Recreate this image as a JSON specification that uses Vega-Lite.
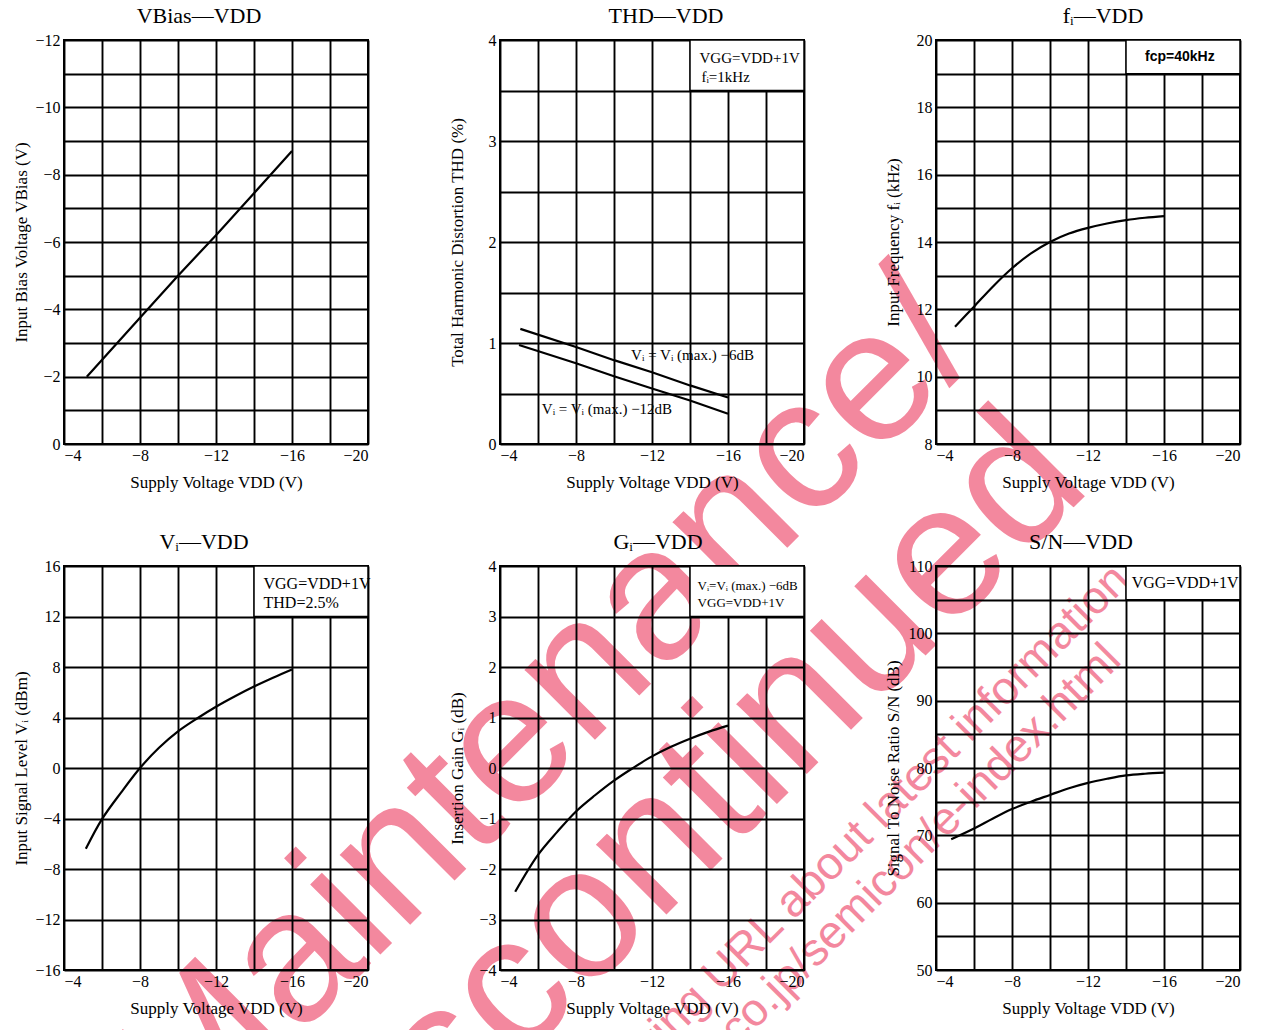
{
  "$schema": "https://vega.github.io/schema/vega-lite/v6.json",
  "background": "white",
  "padding": {"left": 11, "top": 4, "right": 10, "bottom": 10},
  "columns": 3,
  "spacing": {"row": 122, "column": 132},
  "bounds": "flush",
  "datasets": {
    "wmbig": [
      {"x": -31.47, "y": 9.06, "t": "Maintenance/"},
      {"x": -37.95, "y": 12.71, "t": "Discontinued"}
    ],
    "wmsmall": [
      {"x": -41.47, "y": 14.67, "t": "Please visit following URL about latest information."},
      {"x": -43.32, "y": 15.74, "t": "http://panasonic.co.jp/semicon/e-index.html"}
    ],
    "bias": [{"x": -5.2, "y": -2.0}, {"x": -8, "y": -3.75}, {"x": -10, "y": -5.0}, {"x": -12, "y": -6.2}, {"x": -14, "y": -7.45}, {"x": -16, "y": -8.7}],
    "thd": [
      {"s": "6dB", "x": -5.07, "y": 1.14}, {"s": "6dB", "x": -8, "y": 0.96}, {"s": "6dB", "x": -10, "y": 0.83}, {"s": "6dB", "x": -12, "y": 0.71}, {"s": "6dB", "x": -14, "y": 0.58}, {"s": "6dB", "x": -16, "y": 0.46},
      {"s": "12dB", "x": -5.0, "y": 0.98}, {"s": "12dB", "x": -8, "y": 0.8}, {"s": "12dB", "x": -10, "y": 0.67}, {"s": "12dB", "x": -12, "y": 0.55}, {"s": "12dB", "x": -14, "y": 0.43}, {"s": "12dB", "x": -16, "y": 0.3}
    ],
    "thdbox": [{"x": -14, "x2": -20, "y": 3.5, "y2": 4}],
    "thdtxt": [
      {"x": -14.5, "y": 3.82, "t": "VGG=VDD+1V"},
      {"x": -14.6, "y": 3.63, "t": "fᵢ=1kHz"},
      {"x": -10.9, "y": 0.88, "t": "Vᵢ = Vᵢ (max.) −6dB"},
      {"x": -6.2, "y": 0.35, "t": "Vᵢ = Vᵢ (max.) −12dB"}
    ],
    "fi": [{"x": -5, "y": 11.48}, {"x": -6, "y": 12.08}, {"x": -7, "y": 12.68}, {"x": -8, "y": 13.22}, {"x": -9, "y": 13.66}, {"x": -10, "y": 14.0}, {"x": -11, "y": 14.25}, {"x": -12, "y": 14.42}, {"x": -13, "y": 14.55}, {"x": -14, "y": 14.65}, {"x": -15, "y": 14.72}, {"x": -16, "y": 14.77}],
    "fibox": [{"x": -14, "x2": -20, "y": 19, "y2": 20}],
    "fitxt": [{"x": -15.0, "y": 19.5, "t": "fcp=40kHz"}],
    "vi": [{"x": -5.15, "y": -6.4}, {"x": -6, "y": -4.05}, {"x": -7, "y": -1.95}, {"x": -8, "y": 0}, {"x": -9, "y": 1.6}, {"x": -10, "y": 2.9}, {"x": -11, "y": 3.92}, {"x": -12, "y": 4.85}, {"x": -13, "y": 5.68}, {"x": -14, "y": 6.45}, {"x": -15, "y": 7.15}, {"x": -16, "y": 7.8}],
    "vibox": [{"x": -14, "x2": -20, "y": 12, "y2": 16}],
    "vitxt": [{"x": -14.5, "y": 14.6, "t": "VGG=VDD+1V"}, {"x": -14.5, "y": 13.1, "t": "THD=2.5%"}],
    "gi": [{"x": -4.8, "y": -2.45}, {"x": -6, "y": -1.72}, {"x": -7, "y": -1.27}, {"x": -8, "y": -0.86}, {"x": -9, "y": -0.54}, {"x": -10, "y": -0.25}, {"x": -11, "y": 0.0}, {"x": -12, "y": 0.23}, {"x": -13, "y": 0.42}, {"x": -14, "y": 0.58}, {"x": -15, "y": 0.72}, {"x": -16, "y": 0.84}],
    "gibox": [{"x": -14, "x2": -20, "y": 3, "y2": 4}],
    "gitxt": [{"x": -14.4, "y": 3.6, "t": "Vᵢ=Vᵢ (max.) −6dB"}, {"x": -14.4, "y": 3.26, "t": "VGG=VDD+1V"}],
    "sn": [{"x": -4.8, "y": 69.4}, {"x": -6, "y": 71.0}, {"x": -7, "y": 72.5}, {"x": -8, "y": 73.9}, {"x": -9, "y": 75.0}, {"x": -10, "y": 76.0}, {"x": -11, "y": 77.0}, {"x": -12, "y": 77.8}, {"x": -13, "y": 78.4}, {"x": -14, "y": 78.9}, {"x": -15, "y": 79.15}, {"x": -16, "y": 79.3}],
    "snbox": [{"x": -14, "x2": -20, "y": 105, "y2": 110}],
    "sntxt": [{"x": -14.3, "y": 107.5, "t": "VGG=VDD+1V"}]
  },
  "concat": [
    {
      "width": 304, "height": 404,
      "title": {"text": "VBias—VDD", "dx": -17},
      "encoding": {
        "x": {"field": "x", "type": "quantitative", "title": "Supply Voltage  VDD (V)", "scale": {"domain": [-4, -20], "nice": false, "zero": false},
              "axis": {"values": [-4, -6, -8, -10, -12, -14, -16, -18, -20], "labelExpr": "datum.value % 4 == 0 ? datum.label : ''"}},
        "y": {"field": "y", "type": "quantitative", "title": "Input Bias Voltage  VBias (V)", "scale": {"domain": [0, -12], "nice": false, "zero": false},
              "axis": {"values": [0, -1, -2, -3, -4, -5, -6, -7, -8, -9, -10, -11, -12], "labelExpr": "datum.value % 2 == 0 ? datum.label : ''"}}
      },
      "layer": [
        {"data": {"name": "wmbig"}, "mark": {"type": "text", "clip": false, "angle": -45, "align": "center", "baseline": "alphabetic", "font": "Liberation Sans", "fontSize": 188, "color": "#F3889E"}, "encoding": {"text": {"field": "t"}}},
        {"data": {"name": "wmsmall"}, "mark": {"type": "text", "clip": false, "angle": -45, "align": "center", "baseline": "alphabetic", "font": "Liberation Sans", "fontSize": 46, "color": "#F3889E"}, "encoding": {"text": {"field": "t"}}},
        {"data": {"name": "bias"}, "mark": {"type": "line", "color": "black", "strokeWidth": 2.2}}
      ]
    },
    {
      "width": 304, "height": 404,
      "title": {"text": "THD—VDD", "dx": 14},
      "encoding": {
        "x": {"field": "x", "type": "quantitative", "title": "Supply Voltage  VDD (V)", "scale": {"domain": [-4, -20], "nice": false, "zero": false},
              "axis": {"values": [-4, -6, -8, -10, -12, -14, -16, -18, -20], "labelExpr": "datum.value % 4 == 0 ? datum.label : ''"}},
        "y": {"field": "y", "type": "quantitative", "title": "Total Harmonic Distortion  THD (%)", "scale": {"domain": [0, 4], "nice": false, "zero": false},
              "axis": {"values": [0, 0.5, 1, 1.5, 2, 2.5, 3, 3.5, 4], "labelExpr": "datum.value % 1 == 0 ? format(datum.value, 'd') : ''"}}
      },
      "layer": [
        {"data": {"name": "thd"}, "mark": {"type": "line", "color": "black", "strokeWidth": 2.2}, "encoding": {"detail": {"field": "s"}}},
        {"data": {"name": "thdbox"}, "mark": {"type": "rect", "fill": "white", "stroke": "black", "strokeWidth": 1.5}, "encoding": {"x2": {"field": "x2"}, "y2": {"field": "y2"}}},
        {"data": {"name": "thdtxt"}, "mark": {"type": "text", "align": "left", "baseline": "middle", "font": "Liberation Serif", "fontSize": 15, "color": "black"}, "encoding": {"text": {"field": "t"}}}
      ]
    },
    {
      "width": 304, "height": 404,
      "title": {"text": "fᵢ—VDD", "dx": 15},
      "encoding": {
        "x": {"field": "x", "type": "quantitative", "title": "Supply Voltage  VDD (V)", "scale": {"domain": [-4, -20], "nice": false, "zero": false},
              "axis": {"values": [-4, -6, -8, -10, -12, -14, -16, -18, -20], "labelExpr": "datum.value % 4 == 0 ? datum.label : ''"}},
        "y": {"field": "y", "type": "quantitative", "title": "Input Frequency  fᵢ (kHz)", "scale": {"domain": [8, 20], "nice": false, "zero": false},
              "axis": {"values": [8, 9, 10, 11, 12, 13, 14, 15, 16, 17, 18, 19, 20], "labelExpr": "datum.value % 2 == 0 ? datum.label : ''"}}
      },
      "layer": [
        {"data": {"name": "fi"}, "mark": {"type": "line", "color": "black", "strokeWidth": 2.2, "interpolate": "catmull-rom"}},
        {"data": {"name": "fibox"}, "mark": {"type": "rect", "fill": "white", "stroke": "black", "strokeWidth": 1.5}, "encoding": {"x2": {"field": "x2"}, "y2": {"field": "y2"}}},
        {"data": {"name": "fitxt"}, "mark": {"type": "text", "align": "left", "baseline": "middle", "font": "Liberation Sans", "fontWeight": "bold", "fontSize": 14, "color": "black"}, "encoding": {"text": {"field": "t"}}}
      ]
    },
    {
      "width": 304, "height": 404,
      "title": {"text": "Vᵢ—VDD", "dx": -12},
      "encoding": {
        "x": {"field": "x", "type": "quantitative", "title": "Supply Voltage  VDD (V)", "scale": {"domain": [-4, -20], "nice": false, "zero": false},
              "axis": {"values": [-4, -6, -8, -10, -12, -14, -16, -18, -20], "labelExpr": "datum.value % 4 == 0 ? datum.label : ''"}},
        "y": {"field": "y", "type": "quantitative", "title": "Input Signal Level  Vᵢ (dBm)", "scale": {"domain": [-16, 16], "nice": false, "zero": false},
              "axis": {"values": [-16, -12, -8, -4, 0, 4, 8, 12, 16]}}
      },
      "layer": [
        {"data": {"name": "vi"}, "mark": {"type": "line", "color": "black", "strokeWidth": 2.2, "interpolate": "catmull-rom"}},
        {"data": {"name": "vibox"}, "mark": {"type": "rect", "fill": "white", "stroke": "black", "strokeWidth": 1.5}, "encoding": {"x2": {"field": "x2"}, "y2": {"field": "y2"}}},
        {"data": {"name": "vitxt"}, "mark": {"type": "text", "align": "left", "baseline": "middle", "font": "Liberation Serif", "fontSize": 16, "color": "black"}, "encoding": {"text": {"field": "t"}}}
      ]
    },
    {
      "width": 304, "height": 404,
      "title": {"text": "Gᵢ—VDD", "dx": 6},
      "encoding": {
        "x": {"field": "x", "type": "quantitative", "title": "Supply Voltage  VDD (V)", "scale": {"domain": [-4, -20], "nice": false, "zero": false},
              "axis": {"values": [-4, -6, -8, -10, -12, -14, -16, -18, -20], "labelExpr": "datum.value % 4 == 0 ? datum.label : ''"}},
        "y": {"field": "y", "type": "quantitative", "title": "Insertion Gain Gᵢ (dB)", "scale": {"domain": [-4, 4], "nice": false, "zero": false},
              "axis": {"values": [-4, -3, -2, -1, 0, 1, 2, 3, 4]}}
      },
      "layer": [
        {"data": {"name": "gi"}, "mark": {"type": "line", "color": "black", "strokeWidth": 2.2, "interpolate": "catmull-rom"}},
        {"data": {"name": "gibox"}, "mark": {"type": "rect", "fill": "white", "stroke": "black", "strokeWidth": 1.5}, "encoding": {"x2": {"field": "x2"}, "y2": {"field": "y2"}}},
        {"data": {"name": "gitxt"}, "mark": {"type": "text", "align": "left", "baseline": "middle", "font": "Liberation Serif", "fontSize": 13, "color": "black"}, "encoding": {"text": {"field": "t"}}}
      ]
    },
    {
      "width": 304, "height": 404,
      "title": {"text": "S/N—VDD", "dx": -7},
      "encoding": {
        "x": {"field": "x", "type": "quantitative", "title": "Supply Voltage  VDD (V)", "scale": {"domain": [-4, -20], "nice": false, "zero": false},
              "axis": {"values": [-4, -6, -8, -10, -12, -14, -16, -18, -20], "labelExpr": "datum.value % 4 == 0 ? datum.label : ''"}},
        "y": {"field": "y", "type": "quantitative", "title": "Signal To Noise Ratio  S/N (dB)", "scale": {"domain": [50, 110], "nice": false, "zero": false},
              "axis": {"values": [50, 55, 60, 65, 70, 75, 80, 85, 90, 95, 100, 105, 110], "labelExpr": "datum.value % 10 == 0 ? datum.label : ''"}}
      },
      "layer": [
        {"data": {"name": "sn"}, "mark": {"type": "line", "color": "black", "strokeWidth": 2.2, "interpolate": "catmull-rom"}},
        {"data": {"name": "snbox"}, "mark": {"type": "rect", "fill": "white", "stroke": "black", "strokeWidth": 1.5}, "encoding": {"x2": {"field": "x2"}, "y2": {"field": "y2"}}},
        {"data": {"name": "sntxt"}, "mark": {"type": "text", "align": "left", "baseline": "middle", "font": "Liberation Serif", "fontSize": 16, "color": "black"}, "encoding": {"text": {"field": "t"}}}
      ]
    }
  ],
  "config": {
    "font": "Liberation Serif",
    "view": {"stroke": "black", "strokeWidth": 2},
    "axis": {
      "grid": true, "gridColor": "black", "gridWidth": 1.9, "gridOpacity": 1,
      "ticks": false, "domain": false,
      "labelFont": "Liberation Serif", "labelFontSize": 16, "labelColor": "black", "labelPadding": 4,
      "titleFont": "Liberation Serif", "titleFontSize": 17, "titleFontWeight": "normal", "titleColor": "black"
    },
    "axisY": {"minExtent": 28, "maxExtent": 28, "titlePadding": 6},
    "axisX": {"labelPadding": 3, "titlePadding": 11},
    "title": {"font": "Liberation Serif", "fontSize": 22, "fontWeight": "normal", "color": "black", "offset": 4, "frame": "group", "anchor": "middle"}
  }
}
